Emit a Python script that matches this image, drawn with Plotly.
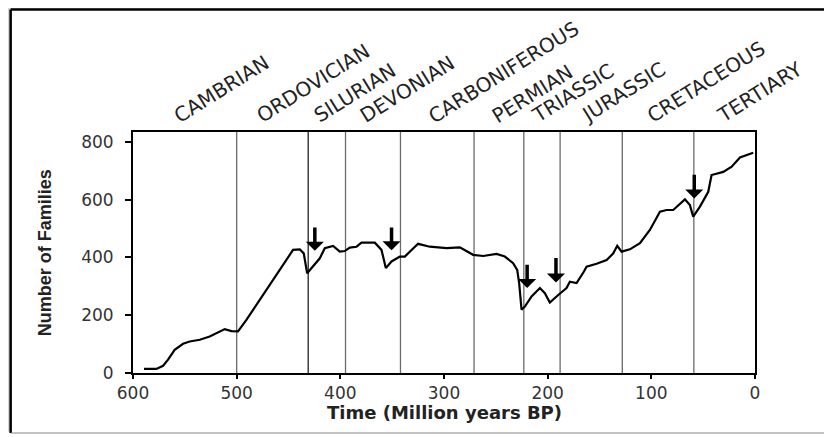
import plotly.graph_objects as go

# ---- data ----
time_my = [589.4, 577.4, 571, 566.2, 559.8, 551.7, 545.3, 535.6, 526, 519.5, 511.5, 505, 498.7,
           490.6, 477.7, 464.9, 452, 445.6, 439.1, 435.3, 432, 426.3, 419.8, 415, 407, 400.5,
           395.7, 390.9, 384.4, 379.6, 366.7, 360.3, 356.1, 350.6, 342.6, 337.8, 331.3, 325,
           313.7, 297.6, 284.7, 271.9, 262.2, 249.3, 241.3, 233.3, 229.4, 227.5, 225.2, 222,
           215.5, 207.5, 202.7, 197.9, 189.8, 181.8, 178.6, 172.1, 165, 162.5, 152.8, 143.1,
           136.7, 132.9, 128.7, 120.7, 111, 101.4, 91.7, 85.3, 78.9, 67.6, 62.8, 59.6, 53.1,
           45.1, 41.9, 30.6, 22.5, 14.5, 1.7]
families = [14, 14, 25, 46, 80, 101, 109, 115, 126, 138, 152, 145, 144,
            184, 253, 322, 391, 426, 428, 414, 345, 368, 397, 432, 440, 420,
            422, 434, 437, 451, 451, 426, 363, 386, 403, 403, 426, 447,
            437, 432, 435, 409, 405, 412, 403, 380, 357, 311, 219, 230,
            265, 294, 276, 244, 270, 294, 316, 311, 351, 368, 378, 391,
            414, 440, 420, 428, 449, 495, 558, 564, 564, 601, 581, 541, 576,
            627, 685, 696, 714, 746, 762]

period_boundaries = [500, 431, 395, 342, 271, 223, 188, 128, 59]
periods = ["CAMBRIAN", "ORDOVICIAN", "SILURIAN", "DEVONIAN", "CARBONIFEROUS",
           "PERMIAN", "TRIASSIC", "JURASSIC", "CRETACEOUS", "TERTIARY"]
period_label_start = [567.0, 487.4, 432.7, 387.7, 321.8, 260.6, 222.0, 174.4, 111.0, 43.5]

extinction_time = [424.6, 350.6, 219.8, 192.0, 58.6]
arrow_tip = [423, 425, 294, 313, 604]
arrow_tail = [509, 509, 380, 403, 691]

x_ticks = [600, 500, 400, 300, 200, 100, 0]
y_ticks = [0, 200, 400, 600, 800]

# ---- figure ----
fig = go.Figure()
fig.add_trace(go.Scatter(x=time_my, y=families, mode="lines",
                         line=dict(color="black", width=2.2), showlegend=False))

shapes = []
# shadow + outer frame
shapes.append(dict(type="rect", xref="paper", yref="paper", x0=-0.215, x1=1.113, y0=-0.243, y1=1.56,
                   fillcolor="#d6d6d6", line=dict(width=0), layer="below"))
shapes.append(dict(type="rect", xref="paper", yref="paper", x0=-0.1967, x1=1.119, y0=-0.249, y1=1.508,
                   fillcolor="white", line=dict(width=0), layer="below"))
shapes.append(dict(type="line", xref="paper", yref="paper", x0=-0.1967, x1=-0.1967, y0=-0.249, y1=1.508,
                   line=dict(color="black", width=2.5)))
shapes.append(dict(type="line", xref="paper", yref="paper", x0=-0.1967, x1=1.119, y0=1.508, y1=1.508,
                   line=dict(color="black", width=2.5)))
shapes.append(dict(type="line", xref="paper", yref="paper", x0=1.119, x1=1.119, y0=-0.249, y1=1.508,
                   line=dict(color="#888", width=1.2)))
shapes.append(dict(type="line", xref="paper", yref="paper", x0=-0.1967, x1=1.119, y0=-0.249, y1=-0.249,
                   line=dict(color="#888", width=1.2)))
for b in period_boundaries:
    shapes.append(dict(type="line", xref="x", yref="paper", x0=b, x1=b, y0=0, y1=1,
                       line=dict(color="#222" if b == 431 else "#6a6a6a", width=1.3), layer="below"))

annotations = []
for name, xs in zip(periods, period_label_start):
    annotations.append(dict(x=xs, y=1.007, xref="x", yref="paper", text=name, showarrow=False,
                            textangle=-32, xanchor="left", yanchor="bottom",
                            font=dict(family="DejaVu Sans", size=20, color="#222")))
for t, tip, tail in zip(extinction_time, arrow_tip, arrow_tail):
    annotations.append(dict(x=t, y=tip, ax=t, ay=tail, xref="x", yref="y", axref="x", ayref="y",
                            text="", showarrow=True, arrowhead=1, arrowsize=0.86, arrowwidth=3.5,
                            arrowcolor="black"))
annotations.append(dict(x=0.5, y=-0.164, xref="paper", yref="paper", text="<b>Time (Million years BP)</b>",
                        showarrow=False, xanchor="center", yanchor="middle",
                        font=dict(family="DejaVu Sans", size=18, color="#222")))
annotations.append(dict(x=-0.142, y=0.5, xref="paper", yref="paper", text="<b>Number of Families</b>",
                        showarrow=False, xanchor="center", yanchor="middle", textangle=-90,
                        font=dict(family="Liberation Sans Narrow, Liberation Sans", size=18, color="#222")))

fig.update_layout(
    width=832, height=437,
    margin=dict(l=125, r=85, t=124, b=72),
    paper_bgcolor="white", plot_bgcolor="rgba(0,0,0,0)",
    shapes=shapes, annotations=annotations,
    xaxis=dict(range=[600, 0], tickvals=x_ticks, ticks="outside", ticklen=4, tickwidth=2,
               tickcolor="black", showgrid=False, zeroline=False, showline=True, linecolor="black",
               linewidth=2, mirror=True, tickfont=dict(family="DejaVu Sans", size=17, color="#333")),
    yaxis=dict(range=[0, 834], tickvals=y_ticks, ticks="outside", ticklen=6, tickwidth=2,
               tickcolor="black", showgrid=False, zeroline=False, showline=True, linecolor="black",
               linewidth=2, mirror=True, ticklabelstandoff=8,
               tickfont=dict(family="DejaVu Sans", size=17, color="#333")),
)

fig.write_html("out.html")
